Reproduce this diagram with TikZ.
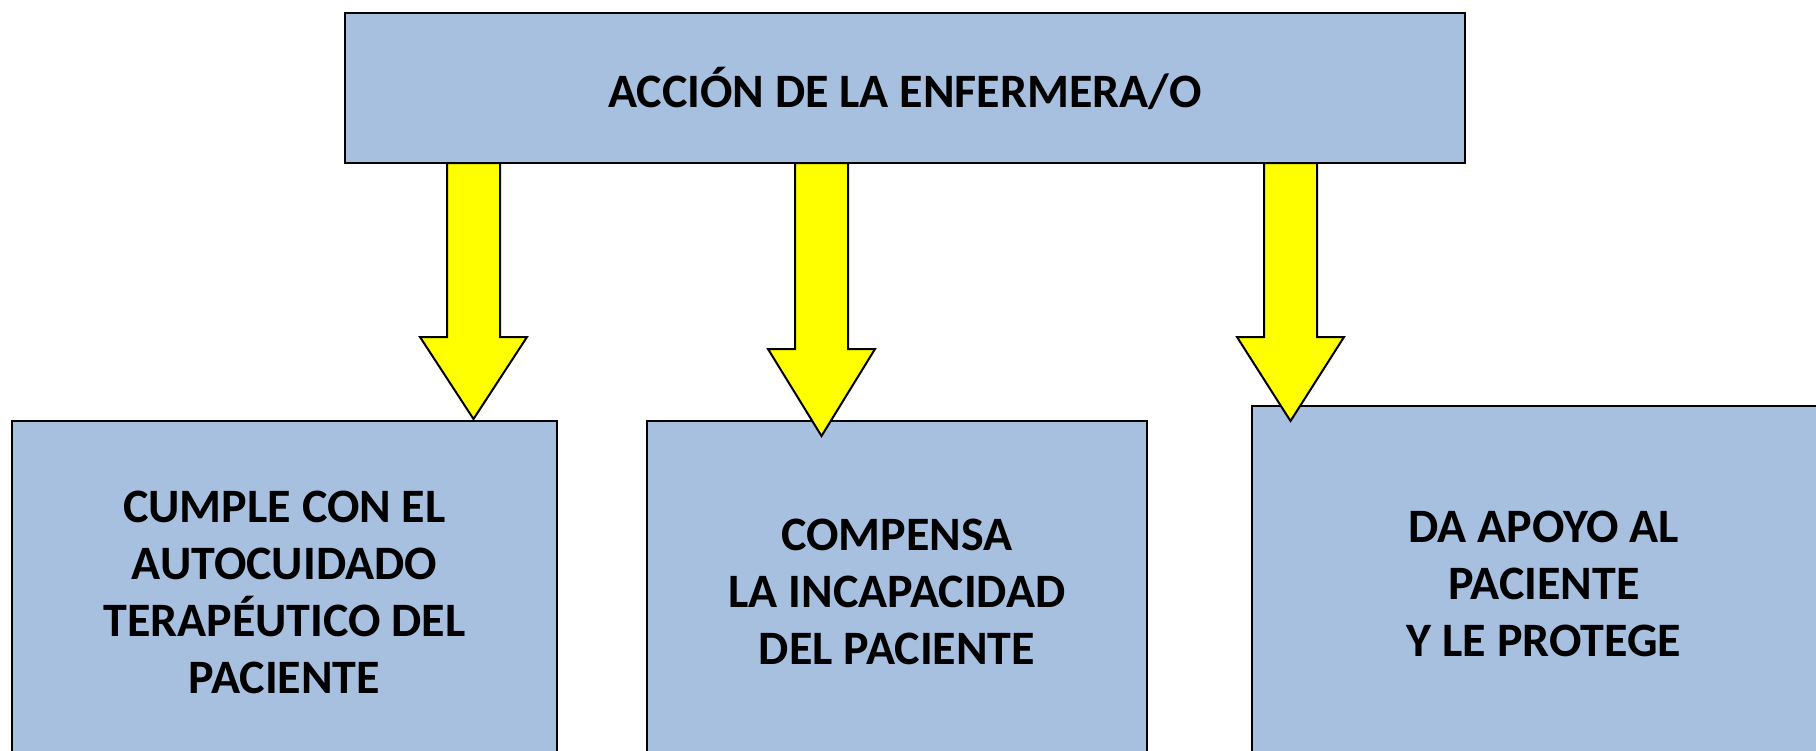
\documentclass[tikz,border=0pt]{standalone}
\usepackage{fontspec}
\setmainfont{Carlito}
\definecolor{boxblue}{HTML}{A7C0DF}
\definecolor{arrowyellow}{HTML}{FFFF00}
\newcommand\blkarrow[4]{% cx, ytop, yhead, ytip
  \draw[yarrow] ({#1-26.5},#2) -- ({#1+26.5},#2) -- ({#1+26.5},#3) -- ({#1+53.5},#3)
    -- (#1,#4) -- ({#1-53.5},#3) -- ({#1-26.5},#3) -- cycle;}
\begin{document}
\begin{tikzpicture}[x=1pt,y=-1pt,
  bluebox/.style={draw=black, line width=2pt, fill=boxblue, inner sep=0pt,
    align=center, font=\fontsize{48}{57}\selectfont\bfseries},
  yarrow/.style={draw=black, line width=2pt, fill=arrowyellow, line join=miter}]
\useasboundingbox (0,0) rectangle (1816,750);
\clip (0,0) rectangle (1816,750);
\fill[white] (0,0) rectangle (1816,750);
\node[bluebox, minimum width=1120pt, minimum height=150pt] (top) at (905,88)
  {ACCIÓN DE LA ENFERMERA/O};
\node[bluebox, minimum width=545pt, minimum height=342pt] (b1) at (284.5,592)
  {CUMPLE CON EL\\AUTOCUIDADO\\TERAPÉUTICO DEL\\PACIENTE};
\node[bluebox, minimum width=500pt, minimum height=342pt] (b2) at (897,592)
  {COMPENSA\\LA INCAPACIDAD\\DEL PACIENTE};
\node[bluebox, minimum width=584pt, minimum height=356pt] (b3) at (1544,584)
  {DA APOYO AL\\PACIENTE\\Y LE PROTEGE};
\blkarrow{473.5}{163}{337}{419}
\blkarrow{821.5}{163}{349}{436}
\blkarrow{1290.5}{163}{337}{421}
\end{tikzpicture}
\end{document}
